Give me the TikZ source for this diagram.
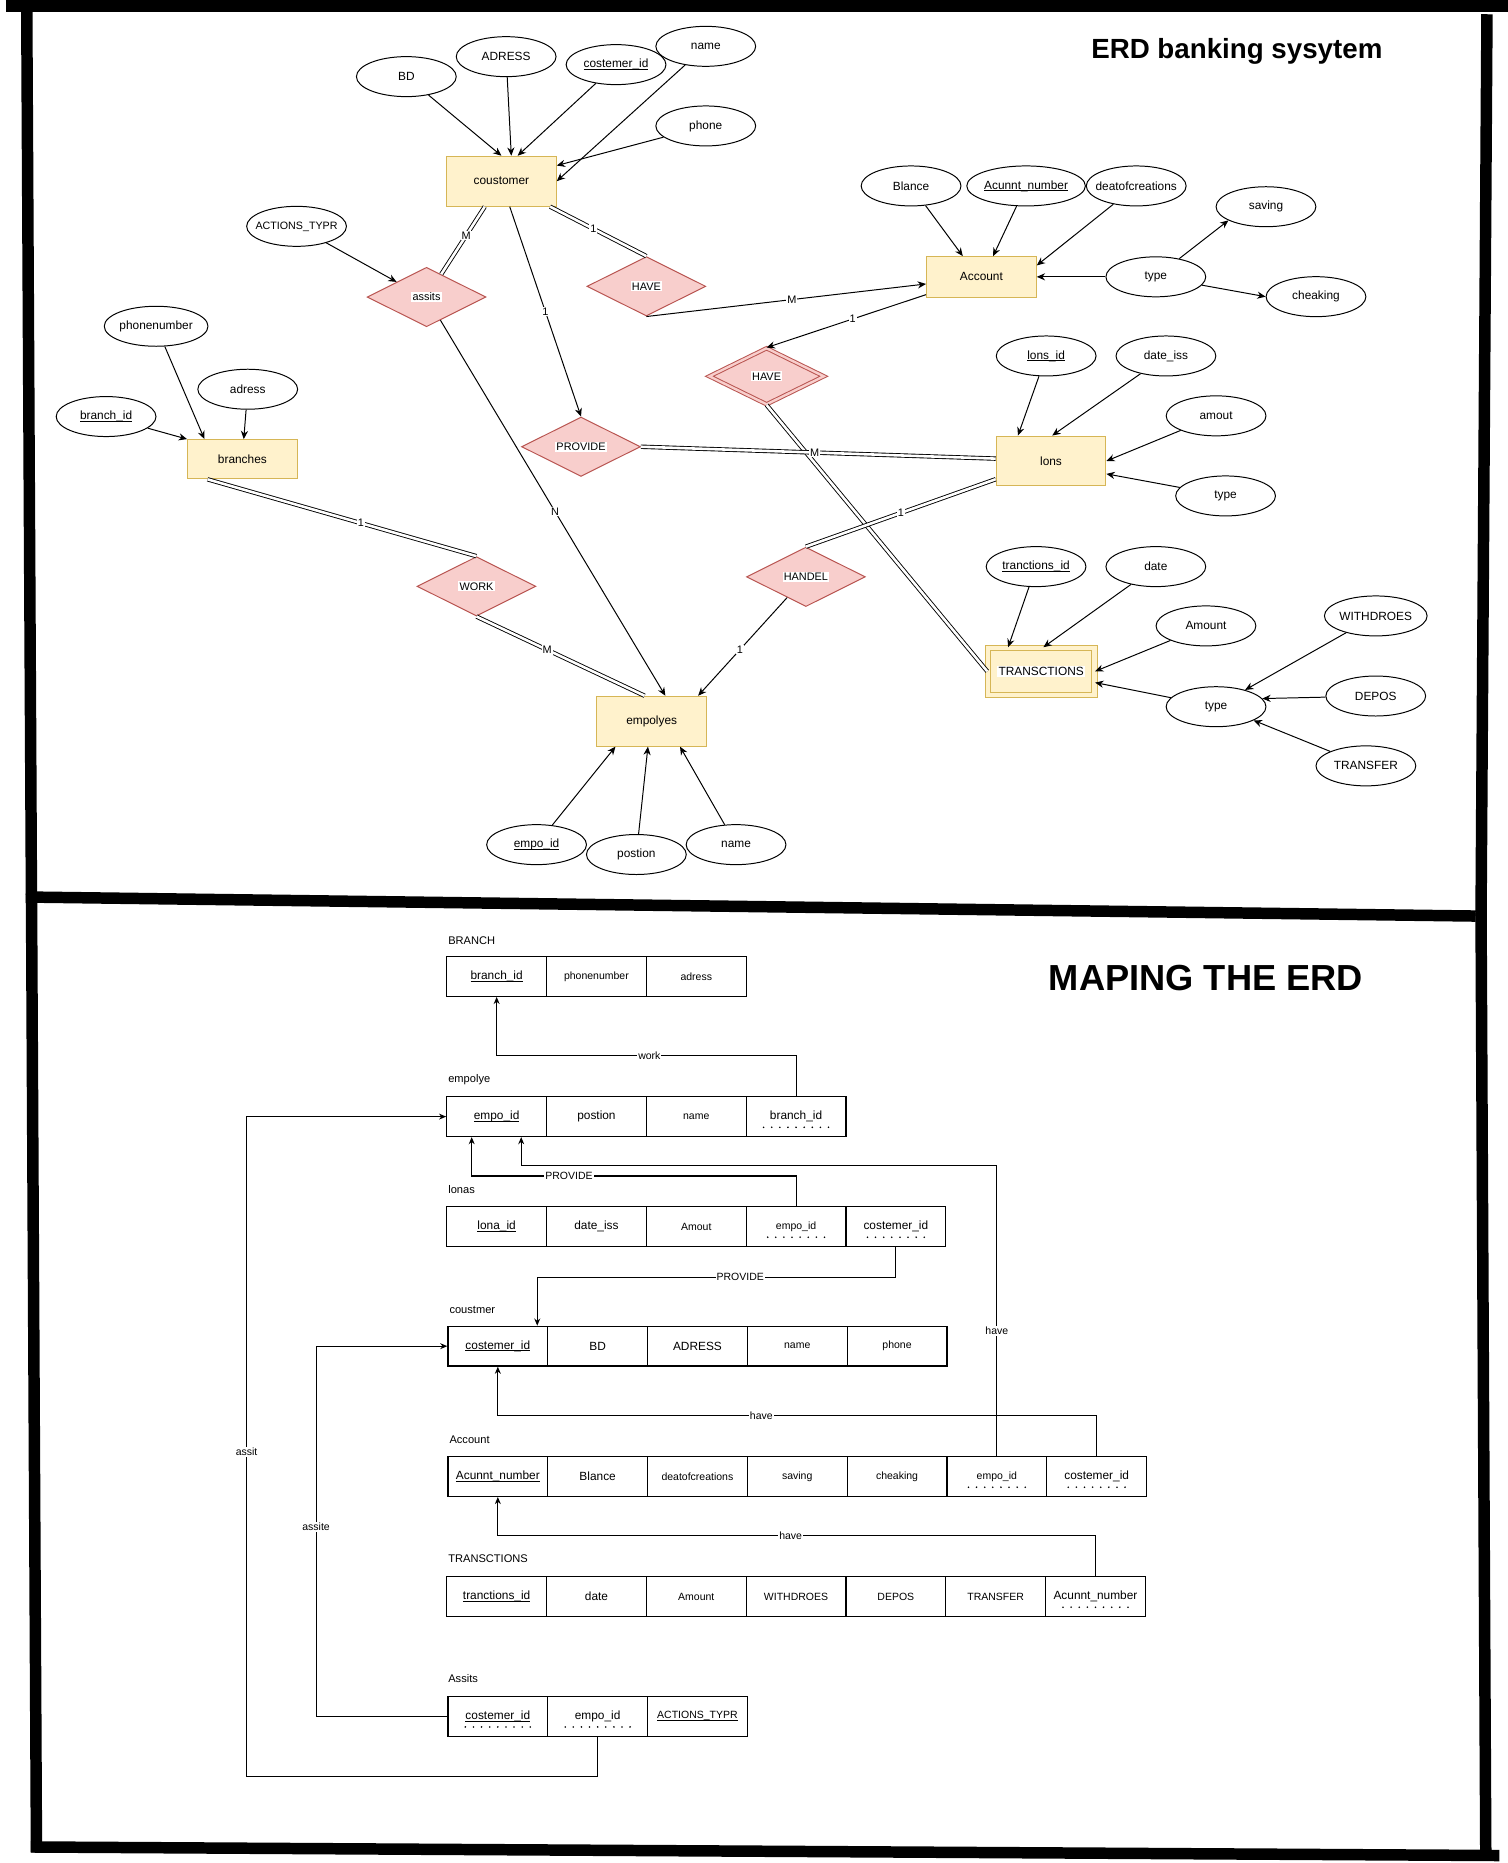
\documentclass[tikz,border=0pt]{standalone}
\usepackage{fontspec}
\setmainfont{Liberation Sans}
\usetikzlibrary{shapes.geometric,arrows.meta}
\definecolor{entfill}{HTML}{FFF2CC}
\definecolor{entdraw}{HTML}{D6B656}
\definecolor{relfill}{HTML}{F8CECC}
\definecolor{reldraw}{HTML}{B85450}
\newcommand\myfs[1]{\fontsize{#1}{#1}\selectfont}
\newcommand\myul[1]{\leavevmode\setbox0\hbox{#1}\rlap{\rule[-0.95pt]{\wd0}{0.35pt}}\box0}
\newcommand\dotrow[2]{\draw[line width=0.9pt, line cap=round, dash pattern=on 0pt off 4.1pt] ([xshift={-(#2-1)*2.05pt}, yshift=-5.4pt]#1.center) -- ++({(#2-1)*4.1pt+0.05pt},0pt);}
\begin{document}
\begin{tikzpicture}[x=0.6pt,y=-0.6pt,
 frame/.style={line width=5.8pt},
 ent/.style={draw=entdraw, fill=entfill, line width=0.5pt, minimum width=55.4pt, inner sep=0pt, font=\myfs{6pt}},
 attr/.style={draw, ellipse, line width=0.5pt, minimum width=50.4pt, minimum height=20.2pt, inner sep=0pt, font=\myfs{6pt}},
 rel/.style={draw=reldraw, fill=relfill, diamond, line width=0.5pt, minimum width=60pt, minimum height=30pt, inner sep=0pt},
 rtxt/.style={fill=white, inner sep=0.6pt, font=\myfs{5.5pt}},
 arr/.style={-{Stealth[length=4.2pt,width=3.6pt]}, line width=0.5pt},
 dbl/.style={double, double distance=1.3pt, line width=0.45pt},
 elab/.style={fill=white, inner sep=0.5pt, font=\myfs{5.5pt}},
 cell/.style={draw, line width=0.6pt, minimum width=50.4pt, minimum height=20.1pt, inner sep=0pt, font=\myfs{6pt}},
 scell/.style={cell, font=\myfs{5.3pt}},
 tlabel/.style={anchor=west, inner sep=0pt, font=\myfs{5.6pt}},
 carr/.style={-{Stealth[length=3.6pt,width=3pt]}, line width=0.55pt},
 mlab/.style={fill=white, inner sep=0.5pt, font=\myfs{5.3pt}}
]
\useasboundingbox (0,0) rectangle (1269,1568);
\fill[white] (0,0) rectangle (1269,1568);

% frames
\draw[frame] (5,5) -- (1269,5);
\draw[frame] (22.5,5) -- (26.5,760);
\draw[frame] (1251.5,12) -- (1246.5,771);
\draw[frame] (24,755) -- (1242,771);
\draw[frame] (26.5,752) -- (30.7,1559);
\draw[frame] (26,1554.5) -- (1262,1561.7);
\draw[frame] (1246.5,768) -- (1250.5,1561);

% titles
\node[font=\bfseries\myfs{14pt}] (title1) at (1041,43) {ERD banking sysytem};
\node[font=\bfseries\myfs{18.3pt}] (title2) at (1015,823) {MAPING THE ERD};

% entities
\node[ent, minimum height=25.2pt] (cust) at (422,152.5) {coustomer};
\node[ent, minimum height=20.4pt] (acc) at (826,233) {Account};
\node[ent, minimum height=25.2pt] (lons) at (884.6,388) {lons};
\node[ent, minimum height=19.8pt] (branches) at (204,386.5) {branches};
\node[ent, minimum height=25.2pt] (emp) at (548.5,607) {empolyes};
\node[ent, minimum width=54pt, minimum height=23.8pt, double=entfill, double distance=2.2pt] (trans) at (876.3,565) {};
\node[rtxt, font=\myfs{6pt}] (transT) at (trans) {TRANSCTIONS};

% relationships
\node[rel] (assits) at (359,250) {};
\node[rtxt] (assitsT) at (assits) {assits};
\node[rel] (have1) at (544,241) {};
\node[rtxt] (have1T) at (have1) {HAVE};
\node[rel] (provide) at (489,376) {};
\node[rtxt] (provideT) at (provide) {PROVIDE};
\node[rel, minimum width=58pt, minimum height=28.5pt, double=relfill, double distance=1.2pt] (have2) at (645.2,316.7) {};
\node[rtxt] (have2T) at (have2) {HAVE};
\node[rel] (work) at (401,493.5) {};
\node[rtxt] (workT) at (work) {WORK};
\node[rel] (handel) at (678.3,485.5) {};
\node[rtxt] (handelT) at (handel) {HANDEL};

% attributes
\node[attr] (BD) at (342,64.5) {BD};
\node[attr] (cadress) at (426,47.7) {ADRESS};
\node[attr] (cid) at (518.5,54.4) {\myul{costemer\_id}};
\node[attr] (cname) at (594,39) {name};
\node[attr] (cphone) at (594,106) {phone};
\node[attr, font=\myfs{5.4pt}] (actions) at (249.6,190.5) {\makebox[0pt]{ACTIONS\_TYPR}};
\node[attr] (phonenumber) at (131.4,274.6) {phonenumber};
\node[attr] (badress) at (208.5,327.6) {adress};
\node[attr] (branchid) at (89.3,350.6) {\myul{branch\_id}};
\node[attr] (blance) at (766.8,156.5) {Blance};
\node[attr] (acnum) at (863.6,156.5) {\myul{Acunnt\_number}};
\node[attr] (deat) at (956.3,156.5) {\makebox[0pt]{deatofcreations}};
\node[attr] (saving) at (1065.5,174) {saving};
\node[attr] (atype) at (972.8,233) {type};
\node[attr] (cheaking) at (1107.6,249.7) {cheaking};
\node[attr] (lonsid) at (880.5,299.6) {\myul{lons\_id}};
\node[attr] (dateiss) at (981.3,299.6) {date\_iss};
\node[attr] (amout) at (1023.5,350) {amout};
\node[attr] (ltype) at (1031.5,417.4) {type};
\node[attr] (tid) at (872,476.9) {\myul{tranctions\_id}};
\node[attr] (tdate) at (972.8,476.9) {date};
\node[attr] (tamount) at (1015,526.8) {Amount};
\node[attr] (withdroes) at (1157.9,518.4) {WITHDROES};
\node[attr] (ttype) at (1023.5,594.8) {type};
\node[attr] (depos) at (1157.9,585.8) {DEPOS};
\node[attr] (transfer) at (1149.6,644.6) {TRANSFER};
\node[attr] (empid) at (451.6,710.9) {\myul{empo\_id}};
\node[attr] (postion) at (535.6,719.2) {postion};
\node[attr] (ename) at (619.5,710.9) {name};

% ER connectors
\draw[arr] (BD) -- (cust.north);
\draw[arr] (cadress) -- ([xshift=5pt]cust.north);
\draw[arr] (cid) -- ([xshift=8.2pt]cust.north);
\draw[arr] (cname) -- (cust.east);
\draw[arr] (cphone) -- ([yshift=7.9pt]cust.east);
\draw[dbl] ([xshift=-8.4pt]cust.south) -- (assits) node[elab,pos=0.43]{M};
\draw[dbl] ([xshift=24.6pt]cust.south) -- (have1.north) node[elab,pos=0.45]{1};
\draw[arr] ([xshift=4.2pt]cust.south) -- (provide.north) node[elab,pos=0.5]{1};
\draw[arr] (have1.south) -- ([yshift=-3.6pt]acc.west) node[elab,pos=0.52]{M};
\draw[arr] ([yshift=-9pt]acc.west) -- (have2.north) node[elab,pos=0.46]{1};
\draw[dbl] (have2.south) -- (trans.west);
\draw[dbl] (provide.east) -- ([yshift=1.2pt]lons.west) node[elab,pos=0.49]{M};
\draw[dbl] ([yshift=-9.2pt]lons.west) -- (handel.north) node[elab,pos=0.5]{1};
\draw[arr] (handel) -- ([xshift=-4.5pt]emp.north east) node[elab,pos=0.53]{1};
\draw[arr] (assits) -- ([xshift=6.9pt]emp.north) node[elab,pos=0.51]{N};
\draw[dbl] ([xshift=-17.6pt]branches.south) -- (work.north) node[elab,pos=0.57]{1};
\draw[dbl] (work.south) -- ([xshift=-3.6pt]emp.north) node[elab,pos=0.42]{M};
\draw[arr] (actions) -- (assits.north west);
\draw[arr] (phonenumber) -- ([xshift=8.8pt]branches.north west);
\draw[arr] (badress) -- ([xshift=0.7pt]branches.north);
\draw[arr] (branchid) -- (branches.north west);
\draw[arr] (blance) -- ([xshift=-9.4pt]acc.north);
\draw[arr] (acnum) -- ([xshift=5.9pt]acc.north);
\draw[arr] (deat) -- ([yshift=-4.7pt]acc.north east);
\draw[arr] (atype) -- (acc.east);
\draw[arr] (atype) -- (saving.200);
\draw[arr] (atype) -- (cheaking.west);
\draw[arr] (lonsid) -- ([xshift=-16.7pt]lons.north);
\draw[arr] (dateiss) -- ([xshift=0.6pt]lons.north);
\draw[arr] (amout) -- (lons.east);
\draw[arr] (ltype) -- ([yshift=-6.5pt]lons.east);
\draw[arr] (tid) -- ([xshift=-16.7pt]trans.north);
\draw[arr] (tdate) -- ([xshift=1.1pt]trans.north);
\draw[arr] (tamount) -- (trans.east);
\draw[arr] (ttype) -- ([yshift=-5.7pt]trans.east);
\draw[arr] (withdroes) -- (ttype.30);
\draw[arr] (depos) -- (ttype.10);
\draw[arr] (transfer) -- (ttype.-20);
\draw[arr] (empid) -- ([xshift=-18.3pt]emp.south);
\draw[arr] (postion) -- ([xshift=-1.9pt]emp.south);
\draw[arr] (ename) -- ([xshift=14.3pt]emp.south);

% ===== mapping =====
\node[tlabel] (lbBranch) at (377,792) {BRANCH};
\node[cell] (b1) at (418,821.8) {\myul{branch\_id}};
\node[scell] (b2) at (502,821.8) {phonenumber};
\node[scell] (b3) at (586,821.8) {adress};

\node[tlabel] (lbEmp) at (377,908.5) {empolye};
\node[cell] (e1) at (418,939.8) {\myul{empo\_id}};
\node[cell] (e2) at (502,939.8) {postion};
\node[scell] (e3) at (586,939.8) {name};
\node[cell] (e4) at (670,939.8) {branch\_id};
\dotrow{e4}{9}

\node[tlabel] (lbLon) at (377,1001) {lonas};
\node[cell] (l1) at (418,1032.3) {\myul{lona\_id}};
\node[cell] (l2) at (502,1032.3) {date\_iss};
\node[scell] (l3) at (586,1032.3) {Amout};
\node[scell] (l4) at (670,1032.3) {empo\_id};
\node[cell] (l5) at (754,1032.3) {costemer\_id};
\dotrow{l4}{8}
\dotrow{l5}{8}

\node[tlabel] (lbCus) at (378,1102.4) {coustmer};
\node[cell] (c1) at (419,1133) {\myul{costemer\_id}};
\node[cell] (c2) at (503,1133) {BD};
\node[cell] (c3) at (587,1133) {ADRESS};
\node[scell] (c4) at (671,1133) {name};
\node[scell] (c5) at (755,1133) {phone};

\node[tlabel] (lbAcc) at (378,1211.8) {Account};
\node[cell] (a1) at (419,1242.7) {\myul{Acunnt\_number}};
\node[cell] (a2) at (503,1242.7) {Blance};
\node[scell] (a3) at (587,1242.7) {deatofcreations};
\node[scell] (a4) at (671,1242.7) {saving};
\node[scell] (a5) at (755,1242.7) {cheaking};
\node[scell] (a6) at (839,1242.7) {empo\_id};
\node[cell] (a7) at (923,1242.7) {costemer\_id};
\dotrow{a6}{8}
\dotrow{a7}{8}

\node[tlabel] (lbTra) at (377,1312.2) {TRANSCTIONS};
\node[cell] (t1) at (418,1343.7) {\myul{tranctions\_id}};
\node[cell] (t2) at (502,1343.7) {date};
\node[scell] (t3) at (586,1343.7) {Amount};
\node[scell] (t4) at (670,1343.7) {WITHDROES};
\node[scell] (t5) at (754,1343.7) {DEPOS};
\node[scell] (t6) at (838,1343.7) {TRANSFER};
\node[cell] (t7) at (922,1343.7) {Acunnt\_number};
\dotrow{t7}{9}

\node[tlabel] (lbAss) at (377,1413) {Assits};
\node[cell] (s1) at (419,1444.5) {\myul{costemer\_id}};
\node[cell] (s2) at (503,1444.5) {empo\_id};
\node[scell] (s3) at (587,1444.5) {\myul{ACTIONS\_TYPR}};
\dotrow{s1}{9}
\dotrow{s2}{9}

% mapping connectors
\draw[carr] (e4.north) -- ++(0,-34.3) -| (b1.south) node[mlab,pos=0.245]{work};
\draw[carr] (l4.north) -- ++(0,-25.3) -| ([xshift=-12.6pt]e1.south) node[mlab,pos=0.35]{PROVIDE};
\draw[carr] (a6.north) -- node[mlab,pos=0.43]{have} ++(0,-244.8) -| ([xshift=12.4pt]e1.south);
\draw[carr] (l5.south) -- ++(0,25.3) -| ([xshift=19.9pt]c1.north) node[mlab,pos=0.217]{PROVIDE};
\draw[carr] (a7.north) -- ++(0,-34.1) -| (c1.south) node[mlab,pos=0.28]{have};
\draw[carr] (t7.north) -- ++(0,-33.8) -| (a1.south) node[mlab,pos=0.255]{have};
\draw[carr] (s1.west) -- ++(-110.5,0) |- (c1.west) node[mlab,pos=0.256]{assite};
\draw[carr] (s2.south) -- ++(0,33.6) -- ++(-295.5,0) |- (e1.west) node[mlab,pos=0.246]{assit};
\end{tikzpicture}
\end{document}
